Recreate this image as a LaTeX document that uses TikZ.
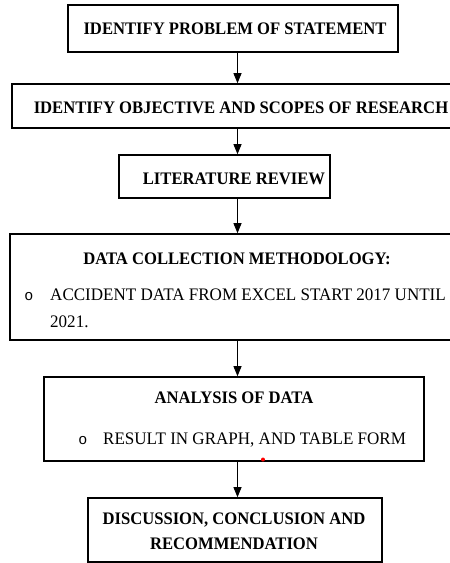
\documentclass[tikz,border=0pt]{standalone}
\usepackage{fontspec}
\setmainfont{Liberation Serif}[UprightFeatures={FakeStretch=0.968}, BoldFeatures={FakeStretch=0.945}]
\newfontfamily\bulletfont{Liberation Mono}
\usetikzlibrary{arrows.meta}
\tikzset{
  box/.style={draw=black, line width=1.6pt, rectangle, inner sep=0pt},
  txt/.style={inner sep=0pt, anchor=base, font=\fontsize{17.6}{20}\selectfont},
  btxt/.style={txt, font=\fontsize{17.6}{20}\selectfont\bfseries},
  ltxt/.style={txt, anchor=base west},
  bul/.style={inner sep=0pt, anchor=base, font=\fontsize{15}{20}\selectfont\bulletfont},
  arr/.style={draw=black, line width=0.9pt, -{Triangle[length=10pt,width=8pt]}}
}
\begin{document}
\begin{tikzpicture}[x=1pt,y=-1pt]
\useasboundingbox (0,0) rectangle (450,563);
% boxes
\node[box, minimum width=330pt, minimum height=47pt] (b1) at (233,28.5) {};
\node[box, minimum width=458pt, minimum height=44pt] (b2) at (241,106) {};
\node[box, minimum width=211pt, minimum height=43pt] (b3) at (224.5,176.5) {};
\node[box, minimum width=460pt, minimum height=106pt] (b4) at (240,287) {};
\node[box, minimum width=380pt, minimum height=84pt] (b5) at (234,419) {};
\node[box, minimum width=294pt, minimum height=64pt] (b6) at (235,530) {};
% texts
\node[btxt] (t1) at (235,34) {IDENTIFY PROBLEM OF STATEMENT};
\node[btxt] (t2) at (241,113) {IDENTIFY OBJECTIVE AND SCOPES OF RESEARCH};
\node[btxt] (t3) at (234,184) {LITERATURE REVIEW};
\node[btxt] (t4) at (237,264) {DATA COLLECTION METHODOLOGY:};
\node[bul] (u4) at (29,300) {o};
\node[ltxt] (t4a) at (50,300) {ACCIDENT DATA FROM EXCEL START 2017 UNTIL};
\node[ltxt] (t4b) at (50,327) {2021.};
\node[btxt] (t5) at (234,403) {ANALYSIS OF DATA};
\node[bul] (u5) at (83,444) {o};
\node[ltxt] (t5a) at (103,444) {RESULT IN GRAPH, AND TABLE FORM};
\node[btxt] (t6a) at (234,524) {DISCUSSION, CONCLUSION AND};
\node[btxt] (t6b) at (234,549) {RECOMMENDATION};
% connectors
\coordinate (ax) at (237.5,0);
\draw[arr] (b1.south -| ax) -- (b2.north -| ax);
\draw[arr] (b2.south -| ax) -- (b3.north -| ax);
\draw[arr] (b3.south -| ax) -- (b4.north -| ax);
\draw[arr] (b4.south -| ax) -- (b5.north -| ax);
\draw[arr] (b5.south -| ax) -- (b6.north -| ax);
% red mark
\fill[red] (263,459.5) circle (2pt);
\end{tikzpicture}
\end{document}
